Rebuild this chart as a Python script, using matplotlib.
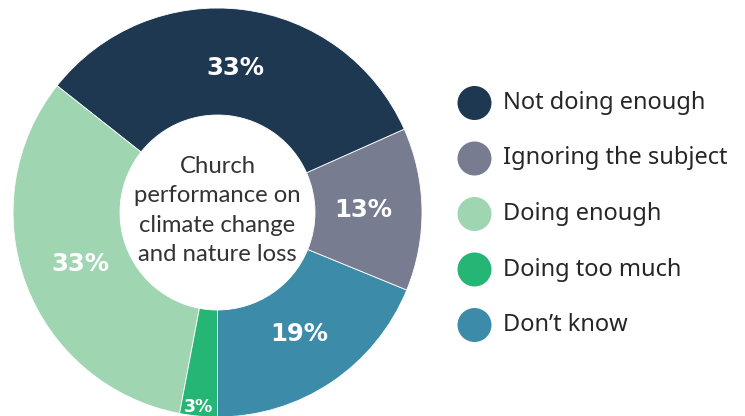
import matplotlib
matplotlib.use("Agg")
import matplotlib.pyplot as plt
from matplotlib.patches import Circle
import numpy as np

# ---- data (legend order) ----
categories = ["Not doing enough", "Ignoring the subject", "Doing enough",
              "Doing too much", "Don\u2019t know"]
values = [33, 13, 33, 3, 19]
colors = ["#1E3851", "#777C91", "#A0D5B1", "#25B574", "#3C8BA8"]
center_title = "Church\nperformance on\nclimate change\nand nature loss"

# order in which slices run counter-clockwise from 6 o'clock
pie_order = [4, 1, 0, 2, 3]

W, H = 745, 416
fig = plt.figure(figsize=(W / 100, H / 100), dpi=100)
ax = fig.add_axes([0, 0, 1, 1])
ax.axis("off")

cx, cy = 217.5, H - 212.5
R_out, R_in = 204.5, 97.5

wedges, _ = ax.pie([values[i] for i in pie_order],
                   colors=[colors[i] for i in pie_order],
                   startangle=-90, counterclock=True,
                   center=(cx, cy), radius=R_out,
                   wedgeprops=dict(width=R_out - R_in, edgecolor="white",
                                   linewidth=0.6))
ax.set_xlim(0, W)
ax.set_ylim(0, H)
ax.set_aspect("equal")

# percentage labels
for w, i in zip(wedges, pie_order):
    mid = np.deg2rad((w.theta1 + w.theta2) / 2)
    if values[i] < 5:
        r = 195
        fs = 12.5
        mid = np.deg2rad(w.theta2 - 5.5)
    else:
        r = 146
        fs = 17.5
    ax.text(cx + r * np.cos(mid), cy + r * np.sin(mid), f"{values[i]}%",
            ha="center", va="center", color="white", fontsize=fs,
            fontweight="bold", family="DejaVu Sans")

# center text
ax.text(cx, cy + 2, center_title, ha="center", va="center", fontsize=17.2,
        color="#333333", family="Lato", fontweight="normal",
        linespacing=1.5)

# legend
leg_x, leg_y0, leg_dy = 474.5, H - 103, 55.5
for k, (lab, col) in enumerate(zip(categories, colors)):
    y = leg_y0 - k * leg_dy
    ax.add_patch(Circle((leg_x, y), 17, color=col, lw=0))
    ax.text(503, y, lab, ha="left", va="center", fontsize=17,
            color="#262626", family="Noto Sans")

fig.savefig("out.png", dpi=100)
